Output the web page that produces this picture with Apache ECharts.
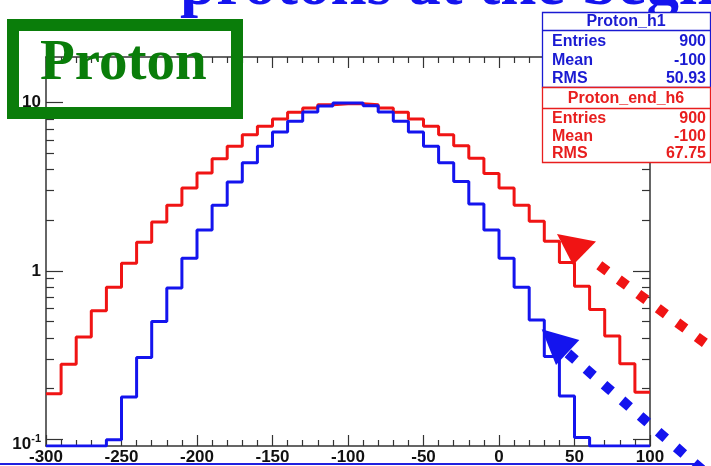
<!DOCTYPE html>
<html>
<head>
<meta charset="utf-8">
<title>Proton</title>
<script src="https://cdn.jsdelivr.net/npm/echarts@6/dist/echarts.min.js"></script>
<style>
html, body { margin: 0; background: #fff; }
#main { width: 711px; height: 466px; }
</style>
</head>
<body>
<div id="main"></div>
<script>
// bin edges (x), 40 bins of width 10
var binEdges = [-300, -290, -280, -270, -260, -250, -240, -230, -220, -210,
                -200, -190, -180, -170, -160, -150, -140, -130, -120, -110,
                -100, -90, -80, -70, -60, -50, -40, -30, -20, -10,
                0, 10, 20, 30, 40, 50, 60, 70, 80, 90, 100];

// Proton_end_h6 (red), contents per bin
var endH6 = [0.186, 0.278, 0.405, 0.58, 0.80, 1.11, 1.48, 1.95, 2.46, 3.11,
             3.82, 4.65, 5.5, 6.45, 7.24, 8.0, 8.77, 9.3, 9.73, 9.87,
             9.87, 9.73, 9.3, 8.77, 8.0, 7.24, 6.45, 5.55, 4.68, 3.8,
             3.11, 2.46, 1.97, 1.5, 1.12, 0.81, 0.59, 0.41, 0.28, 0.19];

// Proton_h1 (blue), contents per bin (0 = empty bin)
var h1 = [0, 0, 0, 0, 0.099, 0.178, 0.305, 0.5, 0.79, 1.19,
          1.75, 2.46, 3.38, 4.4, 5.5, 6.7, 7.75, 8.81, 9.55, 9.96,
          9.96, 9.6, 8.81, 7.75, 6.7, 5.5, 4.4, 3.4, 2.5, 1.75,
          1.19, 0.8, 0.51, 0.31, 0.18, 0.102, 0, 0, 0, 0];

var yMajor = [0.1, 1, 10];
var yMinor = [0.2, 0.3, 0.4, 0.5, 0.6, 0.7, 0.8, 0.9, 2, 3, 4, 5, 6, 7, 8, 9];

var statsH1 = [['Entries', '900'], ['Mean', '-100'], ['RMS', '50.93']];
var statsH6 = [['Entries', '900'], ['Mean', '-100'], ['RMS', '67.75']];

var yMin = 0.0909, yMax = 18.7;
var RED = '#f01414', BLUE = '#1414ee', AX = '#333';

function histData(vals) {
  var out = [];
  for (var i = 0; i < binEdges.length; i++) {
    var v = vals[Math.min(i, vals.length - 1)];
    out.push([binEdges[i], v > 0 ? v : yMin]);   // empty bins sit on the frame
  }
  return out;
}

function xAxisDef(pos, labels) {
  return {
    type: 'value', position: pos, min: -300, max: 100, interval: 50,
    axisLine: { show: true, onZero: false, lineStyle: { color: AX, width: 1.5 } },
    axisTick: { show: true, inside: true, length: 11, lineStyle: { color: AX, width: 1.2 } },
    minorTick: { show: true, splitNumber: 5, length: 6, lineStyle: { color: AX, width: 1.2 } },
    splitLine: { show: false },
    minorSplitLine: { show: false },
    axisLabel: {
      show: labels, margin: 3, fontSize: 17, fontWeight: 'bold',
      fontFamily: 'Liberation Sans', color: '#111'
    }
  };
}

function yAxisDef(pos, ticks, len, line, labels) {
  var ax = {
    type: 'log', logBase: 10, position: pos, min: yMin, max: yMax,
    axisLine: { show: line, onZero: false, lineStyle: { color: AX, width: 1.5 } },
    axisTick: { show: true, inside: true, length: len, customValues: ticks,
                lineStyle: { color: AX, width: 1.2 } },
    splitLine: { show: false },
    axisLabel: { show: false }
  };
  if (labels) {
    ax.axisLabel = {
      show: true, customValues: yMajor, margin: 5,
      fontSize: 17, fontWeight: 'bold', fontFamily: 'Liberation Sans', color: '#111',
      formatter: function (v) {
        if (v < 0.5) return '{b|10}{s|-1}';
        return String(Math.round(v));
      },
      rich: {
        b: { fontSize: 17, fontWeight: 'bold', fontFamily: 'Liberation Sans', color: '#111',
             padding: [10, 0, 0, 0], verticalAlign: 'bottom' },
        s: { fontSize: 11, fontWeight: 'bold', fontFamily: 'Liberation Sans', color: '#111',
             padding: [8, 0, 0, 0], verticalAlign: 'top' }
      }
    };
  }
  return ax;
}

function statsBox(y0, hdrH, rowYs, title, rows, color) {
  var els = [];
  els.push({ type: 'rect', z: 110, shape: { x: 542.5, y: y0, width: 168, height: 75 },
             style: { fill: '#fff', stroke: color, lineWidth: 1.3 } });
  els.push({ type: 'line', z: 111, shape: { x1: 542.5, y1: y0 + hdrH, x2: 710.5, y2: y0 + hdrH },
             style: { stroke: color, lineWidth: 1.3 } });
  els.push({ type: 'text', z: 112, x: 626, y: y0 + hdrH / 2 + 0.5,
             style: { text: title, fill: color, font: 'bold 16px "Liberation Sans"',
                      textAlign: 'center', textVerticalAlign: 'middle', align: 'center', verticalAlign: 'middle' } });
  for (var i = 0; i < rows.length; i++) {
    els.push({ type: 'text', z: 112, x: 552, y: rowYs[i],
               style: { text: rows[i][0], fill: color, font: 'bold 16px "Liberation Sans"',
                        textAlign: 'left', textVerticalAlign: 'middle', align: 'left', verticalAlign: 'middle' } });
    els.push({ type: 'text', z: 112, x: 706, y: rowYs[i],
               style: { text: rows[i][1], fill: color, font: 'bold 16px "Liberation Sans"',
                        textAlign: 'right', textVerticalAlign: 'middle', align: 'right', verticalAlign: 'middle' } });
  }
  return els;
}

var chart = echarts.init(document.getElementById('main'), null, { renderer: 'canvas' });

var graphics = [
  // slide title, mostly cut off at the top
  { type: 'text', z: 90, x: 180, y: -13,
    style: { text: 'protons at the beginning', fill: BLUE, font: 'bold 65px "Liberation Serif"',
             textVerticalAlign: 'middle', verticalAlign: 'middle',
             shadowBlur: 3, shadowColor: 'rgba(0,0,0,0.35)', shadowOffsetX: 2, shadowOffsetY: 3 } },
  // green label box
  { type: 'rect', z: 100, shape: { x: 13, y: 25, width: 224, height: 88 },
    style: { fill: 'none', stroke: '#0a7d0a', lineWidth: 12 } },
  { type: 'text', z: 101, x: 40, y: 64,
    style: { text: 'Proton', fill: '#0a7d0a', font: 'bold 57px "Liberation Serif"',
             textVerticalAlign: 'middle', verticalAlign: 'middle' } },
  // blue rule at the bottom of the slide
  { type: 'line', z: 100, shape: { x1: 0, y1: 464, x2: 699, y2: 464 },
    style: { stroke: '#2020e0', lineWidth: 2 } },
  // red arrow
  { type: 'polygon', z: 105, shape: { points: [[557, 234], [596, 241.5], [573, 265]] },
    style: { fill: RED } },
  { type: 'line', z: 105, shape: { x1: 599.3, y1: 265.3, x2: 735, y2: 365 },
    style: { stroke: RED, lineWidth: 10, lineDash: [10, 14.2], lineCap: 'butt' } },
  // blue arrow
  { type: 'polygon', z: 105, shape: { points: [[541.7, 329.3], [579.3, 340], [556, 365]] },
    style: { fill: BLUE } },
  { type: 'line', z: 105, shape: { x1: 567.9, y1: 353.4, x2: 730, y2: 494 },
    style: { stroke: BLUE, lineWidth: 10, lineDash: [10, 13.9], lineCap: 'butt' } }
];
graphics = graphics.concat(statsBox(12.5, 18, [41.7, 60.2, 79], 'Proton_h1', statsH1, '#1a1ad2'));
graphics = graphics.concat(statsBox(87.5, 21, [118.5, 136.2, 153.8], 'Proton_end_h6', statsH6, '#e81e1e'));

var option = {
  animation: false,
  backgroundColor: '#fff',
  grid: { left: 46, right: 61, top: 57, bottom: 18 },
  xAxis: [xAxisDef('bottom', true), xAxisDef('top', false)],
  yAxis: [
    yAxisDef('left', yMajor, 17, true, true),
    yAxisDef('left', yMinor, 8, false, false),
    yAxisDef('right', yMajor, 17, true, false),
    yAxisDef('right', yMinor, 8, false, false)
  ],
  series: [
    { name: 'Proton_end_h6', type: 'line', step: 'end', symbol: 'none',
      xAxisIndex: 0, yAxisIndex: 0, data: histData(endH6),
      lineStyle: { color: RED, width: 3 }, itemStyle: { color: RED } },
    { name: 'Proton_h1', type: 'line', step: 'end', symbol: 'none',
      xAxisIndex: 0, yAxisIndex: 0, data: histData(h1),
      lineStyle: { color: BLUE, width: 3 }, itemStyle: { color: BLUE } }
  ],
  graphic: { elements: graphics }
};
chart.setOption(option);
</script>
</body>
</html>
